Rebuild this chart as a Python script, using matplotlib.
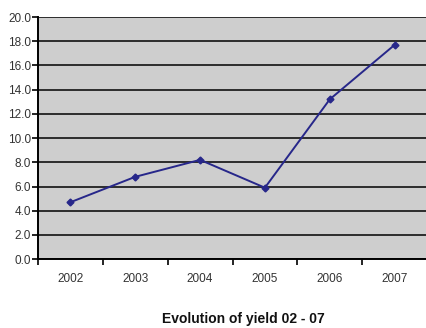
import matplotlib
matplotlib.use("Agg")
import matplotlib.pyplot as plt
import numpy as np

# values
years = ["2002", "2003", "2004", "2005", "2006", "2007"]
yield_vals = [4.7, 6.8, 8.2, 5.9, 13.2, 17.7]
y_ticks = [0, 2, 4, 6, 8, 10, 12, 14, 16, 18, 20]

plt.rcParams['font.family'] = ['Liberation Sans', 'DejaVu Sans']

fig = plt.figure(figsize=(4.27, 3.28), dpi=100)
ax = fig.add_axes([0.089, 0.21, 0.911, 0.738])
ax.set_facecolor('#cecece')

x = np.arange(len(years))
ax.plot(x, yield_vals, color='#27278a', lw=1.4, marker='D', ms=3.5,
        markerfacecolor='#27278a', zorder=3)

ax.set_xlim(-0.5, len(years) - 0.5)
ax.set_ylim(0, 20)
ax.set_yticks(y_ticks)
ax.set_yticklabels([f"{v:.1f}" for v in y_ticks], fontsize=8.5, color='#333333')
ax.yaxis.grid(True, color='black', lw=1.1)
ax.set_axisbelow(True)

ax.set_xticks(x)
ax.set_xticklabels(years, fontsize=8.5, color='#333333')
ax.tick_params(axis='x', length=0, pad=10)
ax.set_xticks(np.arange(-0.5, len(years) + 0.5, 1), minor=True)
ax.tick_params(axis='x', which='minor', length=4, direction='out', width=1.2)
ax.tick_params(axis='y', length=4, width=1.2, pad=1)

for s in ['top', 'right']:
    ax.spines[s].set_visible(False)
ax.spines['left'].set_linewidth(1.4)
ax.spines['bottom'].set_linewidth(1.4)

fig.text(0.57, 0.005, "Evolution of yield 02 - 07", ha='center', va='bottom',
         fontsize=10, fontweight='bold', color='#111111')

fig.savefig("out.png", dpi=100)
